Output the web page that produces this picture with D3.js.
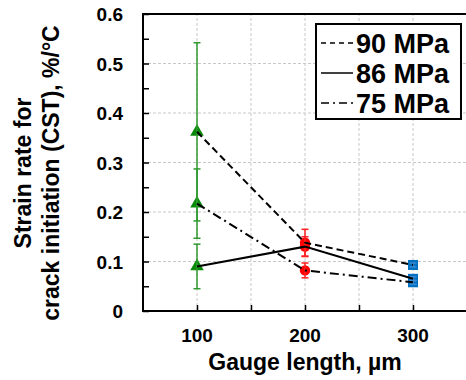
<!DOCTYPE html>
<html>
<head>
<meta charset="utf-8">
<script src="https://cdn.jsdelivr.net/npm/d3@7"></script>
<style>
  body { margin: 0; background: #fff; }
  text { font-family: "Liberation Sans", Arial, sans-serif; font-weight: bold; fill: #000; }
</style>
</head>
<body>
<svg id="chart"></svg>
<script>
// gauge lengths (x) and the three stress levels
var gaugeLengths = [100, 200, 300];
var seriesNames = ["90 MPa", "86 MPa", "75 MPa"];
var rate90 = [0.362, 0.138, 0.093];
var rate86 = [0.090, 0.130, 0.065];
var rate75 = [0.217, 0.082, 0.058];
var err90 = [0.180, 0.027, 0.004];
var err86 = [0.045, 0.020, 0.004];
var err75 = [0.070, 0.015, 0.004];
var xTicks = [100, 200, 300];
var yTicks = [0, 0.1, 0.2, 0.3, 0.4, 0.5, 0.6];

var width = 466, height = 380;
var margin = {top: 14, right: -1, bottom: 69, left: 143};

var svg = d3.select("#chart").attr("width", width).attr("height", height);

var x = d3.scaleLinear().domain([50, 350]).range([margin.left, width - margin.right]);
var y = d3.scaleLinear().domain([0, 0.6]).range([height - margin.bottom, margin.top]);

// colour / shape per gauge length
var markColour = ["#0a8a0a", "#ff0000", "#0070c0"];
var barColour = ["#2e9a2e", "#ff2020", "#3a8ad0"];
var markShape = [d3.symbolTriangle, d3.symbolCircle, d3.symbolSquare];
var markSize = [80, 85, 100];

var series = [
  {name: seriesNames[0], values: rate90, err: err90, dash: "7,4"},
  {name: seriesNames[1], values: rate86, err: err86, dash: null},
  {name: seriesNames[2], values: rate75, err: err75, dash: "9,4,2,4"}
];

// grid
var grid = svg.append("g").attr("stroke", "#c8c8c8").attr("stroke-width", 1).attr("stroke-dasharray", "3,2");
grid.selectAll(".gx").data(d3.range(100, 350, 50)).enter().append("line")
  .attr("x1", function(d) { return x(d); }).attr("x2", function(d) { return x(d); })
  .attr("y1", y(0)).attr("y2", y(0.6));
grid.selectAll(".gy").data(yTicks.slice(1, -1)).enter().append("line")
  .attr("x1", x(50)).attr("x2", x(350))
  .attr("y1", function(d) { return y(d); }).attr("y2", function(d) { return y(d); });

// inward ticks
var yAxis = d3.axisRight(y).tickValues(d3.range(0, 0.6001, 0.05)).tickSize(6).tickFormat("");
svg.append("g").attr("transform", "translate(" + x(50) + ",0)").call(yAxis)
  .call(function(g) { g.select(".domain").remove(); g.selectAll("line").attr("stroke-width", 1.5); });
var xAxis = d3.axisTop(x).tickValues(d3.range(100, 350, 50)).tickSize(6).tickFormat("");
svg.append("g").attr("transform", "translate(0," + y(0) + ")").call(xAxis)
  .call(function(g) { g.select(".domain").remove(); g.selectAll("line").attr("stroke-width", 1.5); });

// tick labels
svg.selectAll(".ylab").data(yTicks).enter().append("text")
  .attr("x", 123).attr("y", function(d) { return y(d) + 7; })
  .attr("text-anchor", "end").style("font-size", "19px")
  .text(function(d) { return d === 0 ? "0" : d.toFixed(1); });
svg.selectAll(".xlab").data(xTicks).enter().append("text")
  .attr("x", function(d) { return x(d); }).attr("y", 342)
  .attr("text-anchor", "middle").style("font-size", "19px")
  .text(function(d) { return d; });

// axis titles
svg.append("text").attr("x", x(200)).attr("y", 370).attr("text-anchor", "middle")
  .style("font-size", "23px").text("Gauge length, \u00b5m");
var yt = svg.append("text").attr("transform", "translate(0,173) rotate(-90)").attr("text-anchor", "middle")
  .style("font-size", "23px");
yt.append("tspan").attr("x", 0).attr("y", 31).text("Strain rate for");
yt.append("tspan").attr("x", 0).attr("y", 59).text("crack initiation (CST), %/\u00b0C");

// markers
series.forEach(function(s) {
  svg.selectAll(null).data(s.values).enter().append("path")
    .attr("transform", function(d, i) { return "translate(" + x(gaugeLengths[i]) + "," + y(d) + ")"; })
    .attr("d", function(d, i) { return d3.symbol().type(markShape[i]).size(markSize[i])(); })
    .attr("fill", function(d, i) { return markColour[i]; });
});

// error bars
series.forEach(function(s) {
  var eb = svg.selectAll(null).data(s.values).enter().append("g")
    .attr("stroke", function(d, i) { return barColour[i]; }).attr("stroke-width", 1.5);
  eb.append("line")
    .attr("x1", function(d, i) { return x(gaugeLengths[i]); }).attr("x2", function(d, i) { return x(gaugeLengths[i]); })
    .attr("y1", function(d, i) { return y(d - s.err[i]); }).attr("y2", function(d, i) { return y(d + s.err[i]); });
  [-1, 1].forEach(function(sg) {
    eb.append("line")
      .attr("x1", function(d, i) { return x(gaugeLengths[i]) - 3.5; }).attr("x2", function(d, i) { return x(gaugeLengths[i]) + 3.5; })
      .attr("y1", function(d, i) { return y(d + sg * s.err[i]); }).attr("y2", function(d, i) { return y(d + sg * s.err[i]); });
  });
});

// lines
var line = d3.line().x(function(d, i) { return x(gaugeLengths[i]); }).y(function(d) { return y(d); });
series.forEach(function(s) {
  svg.append("path").datum(s.values).attr("d", line)
    .attr("fill", "none").attr("stroke", "#000").attr("stroke-width", 2)
    .attr("stroke-dasharray", s.dash);
});

// frame
svg.append("rect").attr("x", x(50)).attr("y", y(0.6)).attr("width", x(350) - x(50)).attr("height", y(0) - y(0.6))
  .attr("fill", "none").attr("stroke", "#000").attr("stroke-width", 2);

// legend
var lg = svg.append("g").attr("transform", "translate(316,24)");
lg.append("rect").attr("width", 145).attr("height", 95).attr("fill", "#fff").attr("stroke", "#000").attr("stroke-width", 2);
series.forEach(function(s, i) {
  var ly = 19 + i * 30;
  lg.append("line").attr("x1", 5).attr("x2", 37).attr("y1", ly).attr("y2", ly)
    .attr("stroke", "#000").attr("stroke-width", 1.5).attr("stroke-dasharray", s.dash ? (i === 0 ? "5,4" : "8,4,2,4") : null);
  lg.append("text").attr("x", 40).attr("y", ly + 10).style("font-size", "27px").text(s.name);
});
</script>
</body>
</html>
